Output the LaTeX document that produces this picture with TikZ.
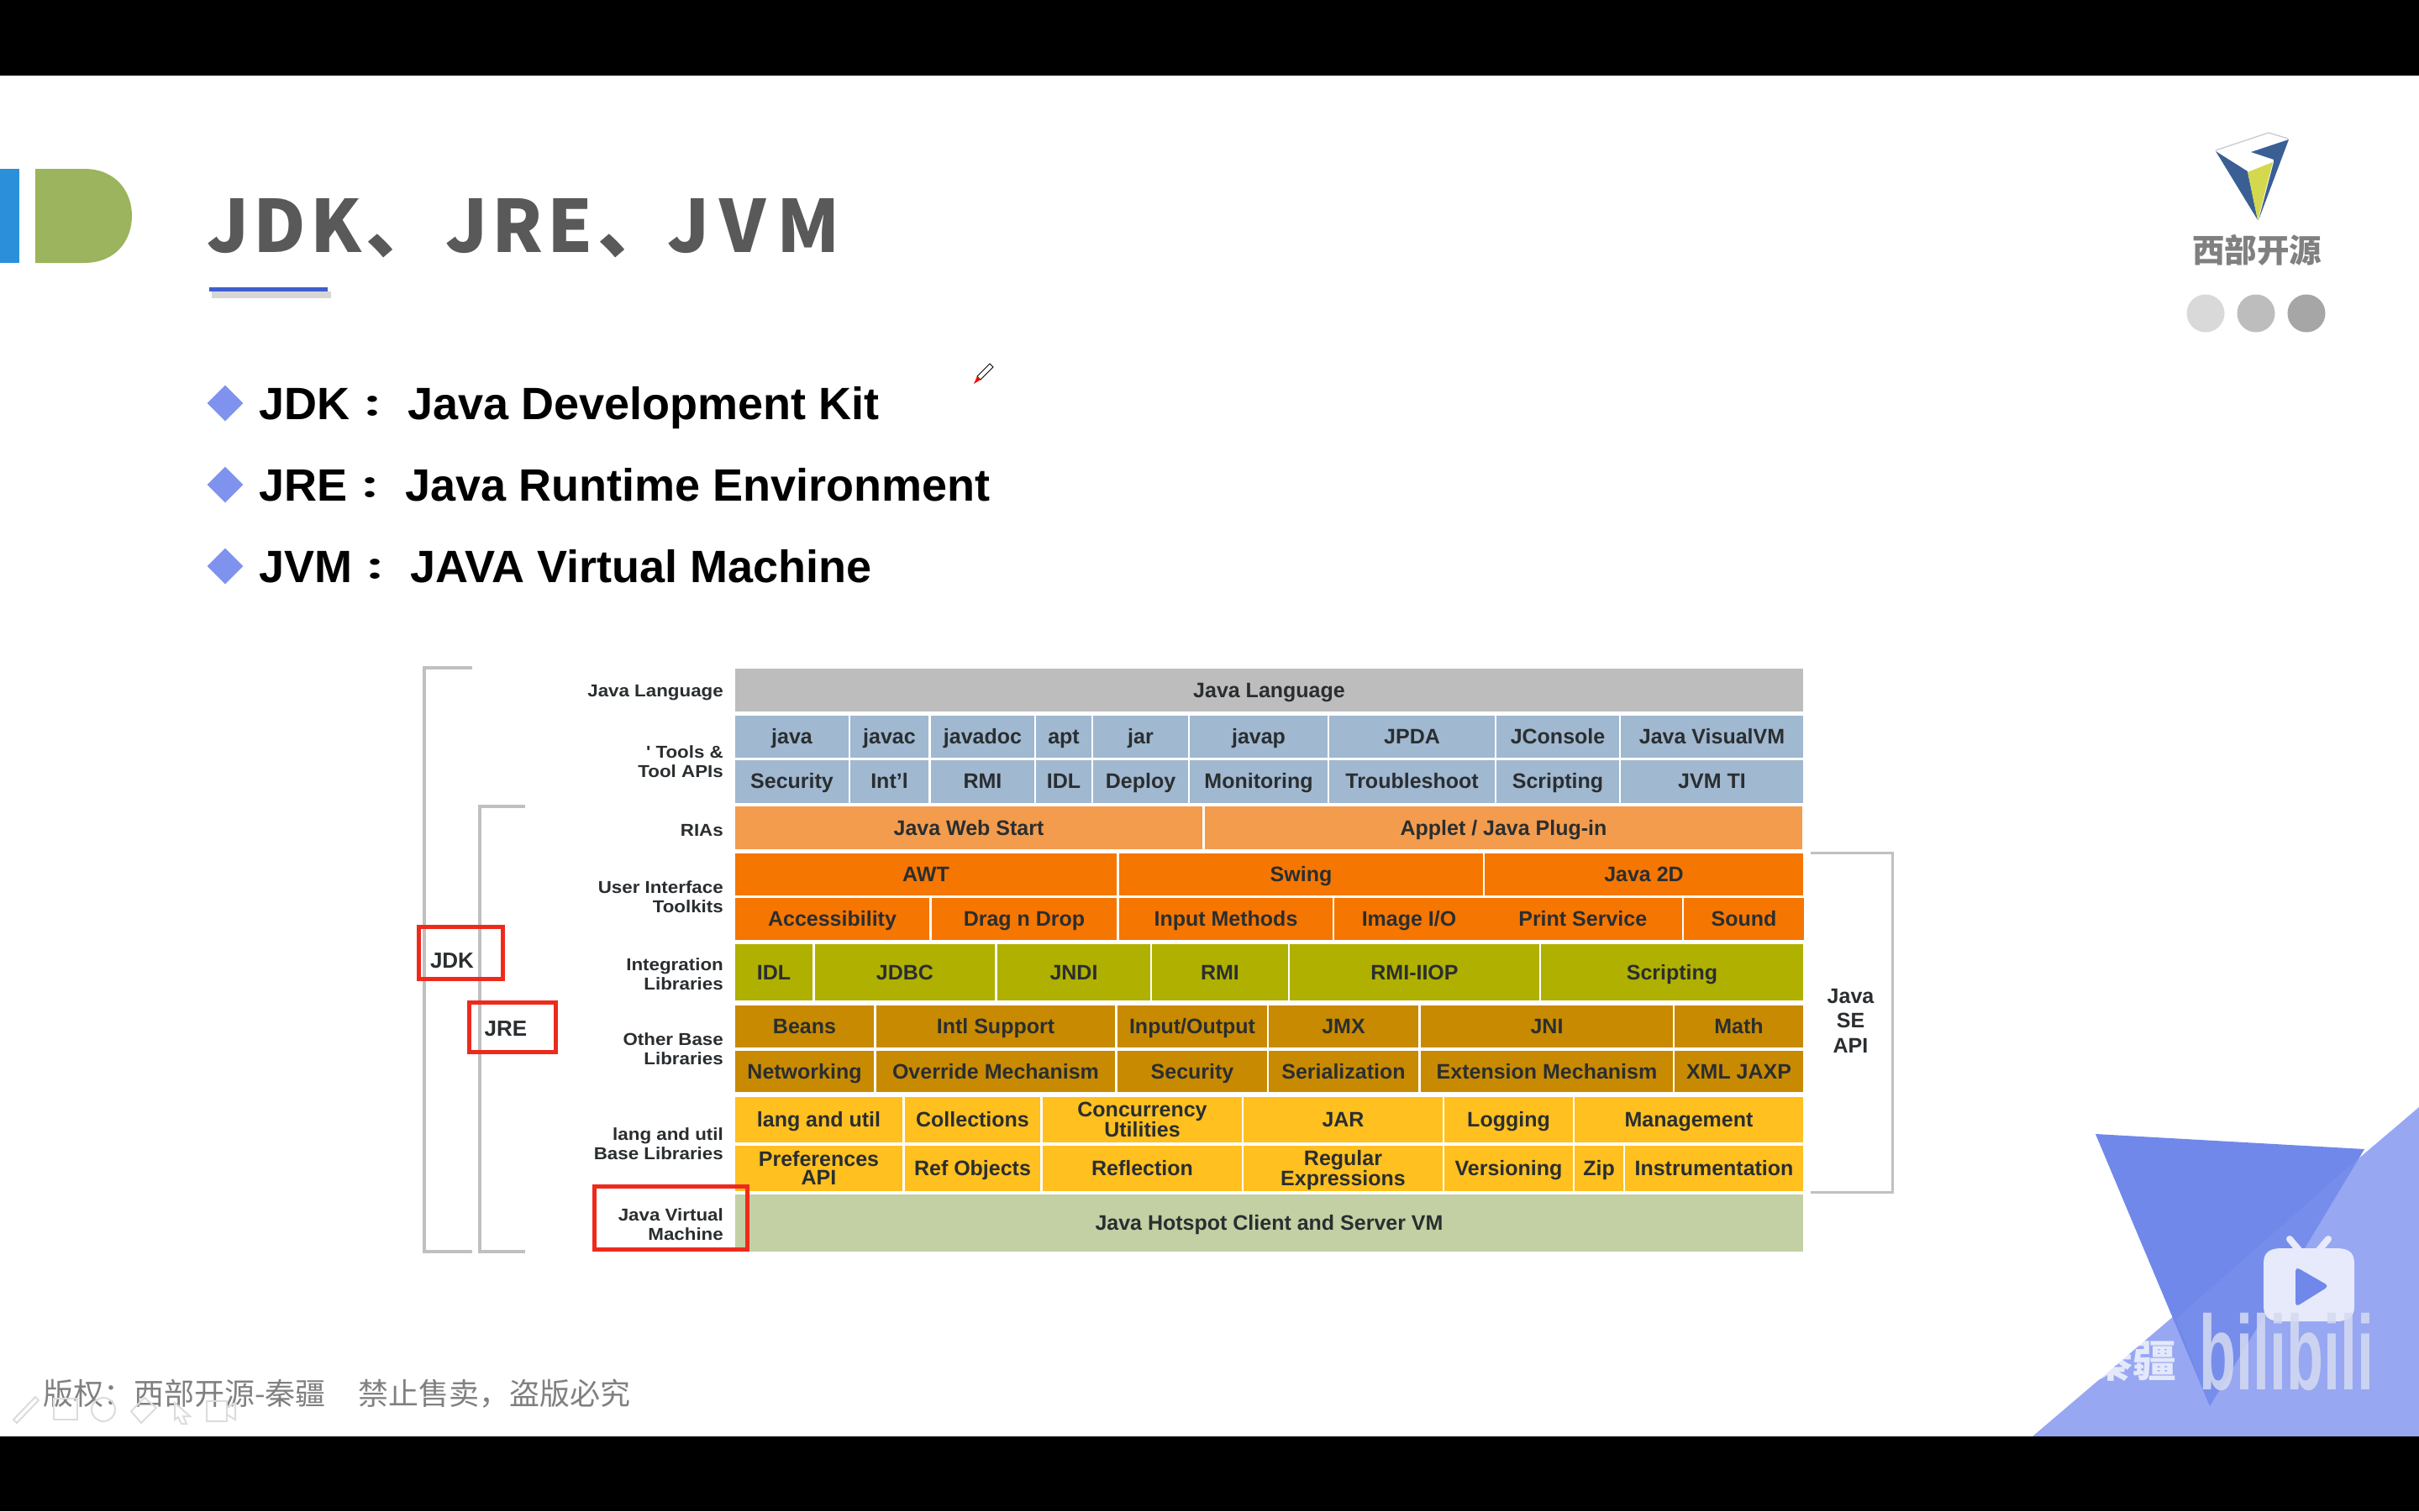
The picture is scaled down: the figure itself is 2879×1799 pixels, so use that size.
\documentclass[tikz,border=0pt]{standalone}
\usepackage{fontspec}
\usetikzlibrary{shapes.geometric}
\setmainfont{Liberation Sans}
\newfontfamily\cjk{Noto Sans CJK SC}
\newfontfamily\cjkc{Noto Sans CJK TC}
\newfontfamily\titlefont[LetterSpace=6]{Noto Sans CJK SC}
\newfontfamily\sidefont[FakeStretch=1.09]{Liberation Sans}
\definecolor{cLang}{HTML}{BDBDBD}
\definecolor{cTool}{HTML}{A0B8D0}
\definecolor{cRia}{HTML}{F39C4E}
\definecolor{cUi}{HTML}{F57600}
\definecolor{cInt}{HTML}{B0B000}
\definecolor{cOther}{HTML}{C88A00}
\definecolor{cBase}{HTML}{FFC020}
\definecolor{cVm}{HTML}{C2D0A4}
\definecolor{cText}{HTML}{2A2E30}
\definecolor{cGrey}{HTML}{C0C0C0}
\definecolor{cRed}{HTML}{EE2A1D}
\definecolor{cDia}{HTML}{7F93EE}
\definecolor{cLogo}{HTML}{3A5F95}
\definecolor{cYel}{HTML}{D3D84E}
\definecolor{cLight}{HTML}{97A7F2}
\definecolor{cDark}{HTML}{7088EA}
\definecolor{cIcon}{HTML}{E6EAFB}
\definecolor{cTool2}{HTML}{DCDCDC}
\definecolor{cBlue}{HTML}{2B90D9}
\definecolor{cGreen}{HTML}{9BB45D}
\definecolor{cTitle}{HTML}{595959}
\definecolor{cShadow}{HTML}{D6D6D6}
\definecolor{cUnder}{HTML}{3F5FD0}
\definecolor{cOutline}{HTML}{C9C4CF}
\definecolor{cBrand}{HTML}{808080}
\definecolor{cDotA}{HTML}{D9D9D9}
\definecolor{cDotB}{HTML}{BDBDBD}
\definecolor{cDotC}{HTML}{A6A6A6}
\definecolor{cBili}{HTML}{D5DBF0}
\tikzset{
  x=1pt,y=-1pt,
  blockcell/.style={rectangle,draw=none,inner sep=0pt,text=cText,align=center,
    font=\fontsize{25}{22.6}\selectfont\bfseries},
  sidelabel/.style={anchor=east,inner sep=0pt,text=cText,align=right,
    font=\fontsize{20.5}{23.2}\selectfont\sidefont\bfseries},
  rail/.style={draw=cGrey,line width=3.6pt},
  thinrail/.style={draw=cGrey,line width=3pt},
  redbox/.style={draw=cRed,line width=5pt,fill=none},
  sdk/.style={inner sep=0pt,text=cText,font=\fontsize{26}{26}\selectfont\bfseries},
  bullet/.style={diamond,fill=cDia,draw=none,inner sep=0pt,minimum width=43pt,minimum height=43pt,aspect=1},
  bullettext/.style={anchor=west,inner sep=0pt,text=black,text height=50pt,text depth=11pt,font=\fontsize{54}{60}\selectfont\bfseries},
  dot/.style={circle,draw=none,inner sep=0pt,minimum size=45pt},
  tooltrace/.style={draw=cTool2,line width=2pt,fill=none},
}
\newcommand\cell[7]{%
  \pgfmathsetmacro\cw{#3-#2}\pgfmathsetmacro\ch{#5-#4}%
  \pgfmathsetmacro\cx{(#2+#3)/2}\pgfmathsetmacro\cy{(#4+#5)/2}%
  \node[blockcell,fill=#6,minimum width=\cw pt,minimum height=\ch pt] (#1) at (\cx,\cy) {\rule{0pt}{23pt}#7\vphantom{Jg}};}
\newcommand\sdtop{\rule{0pt}{21pt}}
\newcommand\sdbot{\vphantom{Jg}}
\newcommand\fwcolon{{\cjkc\raisebox{2.6pt}{\scalebox{1}[.65]{：}}}}
\begin{document}
\begin{tikzpicture}
\useasboundingbox (0,0) rectangle (2879,1799);
\fill[white] (0,0) rectangle (2879,1799);
% corner triangles (under the black bar)
\fill[cLight] (2419,1710) -- (2879,1318) -- (2879,1710) -- cycle;
\fill[cDark] (2494,1350) -- (2814,1368) -- (2630,1674) -- cycle;
\fill[cLight,opacity=.18] (2590,1570) -- (2826,1362) -- (2700,1560) -- (2630,1674) -- cycle;
% bars
\fill[black] (0,0) rectangle (2879,90);
\fill[black] (0,1710) rectangle (2879,1799);
% header marks
\fill[cBlue] (0,201) rectangle (23,313);
\fill[cGreen] (42,201) -- (100,201) .. controls (138,201) and (157,228) .. (157,257) .. controls (157,286) and (138,313) .. (100,313) -- (42,313) -- cycle;
\node[anchor=west,inner sep=0pt,text=cTitle,font=\fontsize{86}{90}\selectfont\titlefont\bfseries] (title) at (246,272) {JDK、\hspace{8.5pt}JRE、\hspace{-3pt}{\addfontfeature{LetterSpace=14.5}JVM}};
\fill[cShadow] (252,347) rectangle (394,355);
\fill[cUnder] (249,342) rectangle (390,347);
% bullets
\node[bullet] (b1) at (268,480) {};
\node[bullet] (b2) at (268,577) {};
\node[bullet] (b3) at (268,674) {};
\node[bullettext] (t1) at (308,480) {JDK\fwcolon{} Java Development Kit};
\node[bullettext] (t2) at (308,577) {JRE\fwcolon{} Java Runtime Environment};
\node[bullettext] (t3) at (308,674) {JVM\fwcolon{} JAVA Virtual Machine};
% pen cursor
\draw[black,line width=1pt,fill=white] (1178,433) -- (1182,437) -- (1167,452) -- (1163,448) -- cycle;
\fill[red] (1163,448) -- (1167,452) -- (1159,457) -- cycle;
% logo
\draw[cOutline,line width=1.2pt] (2637,179) -- (2700,158) -- (2723,165);
\fill[cLogo] (2637,180) -- (2675,204) -- (2687,262) -- cycle;
\fill[cYel] (2675,205) -- (2705,193) -- (2687,262) -- cycle;
\fill[cLogo] (2679,181) -- (2724,166) -- (2688,262) -- (2706,193) -- (2706,190) -- cycle;
\node[inner sep=0pt,text=cBrand,font=\fontsize{38.5}{40}\selectfont\cjk\bfseries] (brand) at (2686,298) {西部开源};
\node[dot,fill=cDotA] (d1) at (2625,373) {};
\node[dot,fill=cDotB] (d2) at (2685,373) {};
\node[dot,fill=cDotC] (d3) at (2745,373) {};
% rails
\draw[rail] (562,795) -- (505,795) -- (505,1490) -- (562,1490);
\draw[rail] (625,960) -- (571,960) -- (571,1490) -- (625,1490);
\draw[thinrail] (2155,1015) -- (2252,1015) -- (2252,1419) -- (2155,1419);
% side labels
\node[sidelabel] (lLang) at (861,821) {\sdtop Java Language\sdbot};
\node[sidelabel] (lTool) at (861,906) {\sdtop ' Tools \&\\Tool APIs\sdbot};
\node[sidelabel] (lRia) at (861,987) {\sdtop RIAs\sdbot};
\node[sidelabel] (lUi) at (861,1067) {\sdtop User Interface\\Toolkits\sdbot};
\node[sidelabel] (lInt) at (861,1158.6) {\sdtop Integration\\Libraries\sdbot};
\node[sidelabel] (lOther) at (861,1248) {\sdtop Other Base\\Libraries\sdbot};
\node[sidelabel] (lBase) at (861,1361) {\sdtop lang and util\\Base Libraries\sdbot};
\node[sidelabel] (lVm) at (861,1456.5) {\sdtop Java Virtual\\Machine\sdbot};
% Language
\cell{jl}{875}{2146}{796}{846.5}{cLang}{Java Language}
% Tools
\cell{a1}{875}{1010}{851.5}{901.5}{cTool}{java}
\cell{a2}{1012}{1105}{851.5}{901.5}{cTool}{javac}
\cell{a3}{1108}{1231}{851.5}{901.5}{cTool}{javadoc}
\cell{a4}{1233}{1299}{851.5}{901.5}{cTool}{apt}
\cell{a5}{1301}{1414}{851.5}{901.5}{cTool}{jar}
\cell{a6}{1416}{1580}{851.5}{901.5}{cTool}{javap}
\cell{a7}{1582}{1779}{851.5}{901.5}{cTool}{JPDA}
\cell{a8}{1781}{1927}{851.5}{901.5}{cTool}{JConsole}
\cell{a9}{1929}{2146}{851.5}{901.5}{cTool}{Java VisualVM}
\cell{b1c}{875}{1010}{904.5}{955.5}{cTool}{Security}
\cell{b2c}{1012}{1105}{904.5}{955.5}{cTool}{Int'l}
\cell{b3c}{1108}{1231}{904.5}{955.5}{cTool}{RMI}
\cell{b4c}{1233}{1299}{904.5}{955.5}{cTool}{IDL}
\cell{b5c}{1301}{1414}{904.5}{955.5}{cTool}{Deploy}
\cell{b6c}{1416}{1580}{904.5}{955.5}{cTool}{Monitoring}
\cell{b7c}{1582}{1779}{904.5}{955.5}{cTool}{Troubleshoot}
\cell{b8c}{1781}{1927}{904.5}{955.5}{cTool}{Scripting}
\cell{b9c}{1929}{2146}{904.5}{955.5}{cTool}{JVM TI}
% RIAs
\cell{r1}{875}{1431}{960}{1010.5}{cRia}{Java Web Start}
\cell{r2}{1434}{2145}{960}{1010.5}{cRia}{Applet / Java Plug-in}
% UI
\cell{u1}{875}{1329}{1015.5}{1066}{cUi}{AWT}
\cell{u2}{1332}{1765}{1015.5}{1066}{cUi}{Swing}
\cell{u3}{1767}{2146}{1015.5}{1066}{cUi}{Java 2D}
\cell{v1}{875}{1106}{1068.5}{1119}{cUi}{Accessibility}
\cell{v2}{1109}{1329}{1068.5}{1119}{cUi}{Drag n Drop}
\cell{v3}{1332}{1586}{1068.5}{1119}{cUi}{Input Methods}
\cell{v4}{1588}{1766}{1068.5}{1119}{cUi}{Image I/O}
\cell{v5}{1765.5}{2002}{1068.5}{1119}{cUi}{Print Service}
\cell{v6}{2004}{2147}{1068.5}{1119}{cUi}{Sound}
% Integration
\cell{i1}{875}{967}{1124}{1191}{cInt}{IDL}
\cell{i2}{970}{1184}{1124}{1191}{cInt}{JDBC}
\cell{i3}{1187}{1369}{1124}{1191}{cInt}{JNDI}
\cell{i4}{1371}{1533}{1124}{1191}{cInt}{RMI}
\cell{i5}{1535}{1832}{1124}{1191}{cInt}{RMI-IIOP}
\cell{i6}{1834}{2146}{1124}{1191}{cInt}{Scripting}
% Other
\cell{o1}{875}{1040}{1197}{1246.5}{cOther}{Beans}
\cell{o2}{1043}{1327}{1197}{1246.5}{cOther}{Intl Support}
\cell{o3}{1330}{1508}{1197}{1246.5}{cOther}{Input/Output}
\cell{o4}{1510}{1688}{1197}{1246.5}{cOther}{JMX}
\cell{o5}{1691}{1991}{1197}{1246.5}{cOther}{JNI}
\cell{o6}{1993}{2146}{1197}{1246.5}{cOther}{Math}
\cell{p1}{875}{1040}{1250.5}{1300}{cOther}{Networking}
\cell{p2}{1043}{1327}{1250.5}{1300}{cOther}{Override Mechanism}
\cell{p3}{1330}{1508}{1250.5}{1300}{cOther}{Security}
\cell{p4}{1510}{1688}{1250.5}{1300}{cOther}{Serialization}
\cell{p5}{1691}{1991}{1250.5}{1300}{cOther}{Extension Mechanism}
\cell{p6}{1993}{2146}{1250.5}{1300}{cOther}{XML JAXP}
% Base
\cell{q1}{875}{1074}{1305.5}{1360}{cBase}{lang and util}
\cell{q2}{1077}{1238}{1305.5}{1360}{cBase}{Collections}
\cell{q3}{1241}{1478}{1305.5}{1360}{cBase}{Concurrency\\Utilities}
\cell{q4}{1480}{1717}{1305.5}{1360}{cBase}{JAR}
\cell{q5}{1719}{1872}{1305.5}{1360}{cBase}{Logging}
\cell{q6}{1874}{2146}{1305.5}{1360}{cBase}{Management}
\cell{s1}{875}{1074}{1363.5}{1417.5}{cBase}{Preferences\\API}
\cell{s2}{1077}{1238}{1363.5}{1417.5}{cBase}{Ref Objects}
\cell{s3}{1241}{1478}{1363.5}{1417.5}{cBase}{Reflection}
\cell{s4}{1480}{1717}{1363.5}{1417.5}{cBase}{Regular\\Expressions}
\cell{s5}{1719}{1872}{1363.5}{1417.5}{cBase}{Versioning}
\cell{s6}{1874}{1932}{1363.5}{1417.5}{cBase}{Zip}
\cell{s7}{1934}{2146}{1363.5}{1417.5}{cBase}{Instrumentation}
% VM
\cell{vm}{875}{2146}{1422}{1490}{cVm}{Java Hotspot Client and Server VM}
% red boxes and their labels
\node[sdk] (jdk) at (538,1144) {JDK};
\node[sdk] (jre) at (602,1225) {JRE};
\draw[redbox] (498,1103) rectangle (598,1165);
\draw[redbox] (558,1193) rectangle (661,1252);
\draw[redbox] (707,1412) rectangle (889,1487);
\node[inner sep=0pt,text=cText,align=center,font=\fontsize{25}{29.5}\selectfont\bfseries] (jse) at (2202.5,1218) {\vphantom{Jg}Java\\SE\\API\vphantom{Jg}};
% bottom left
\node[anchor=west,inner sep=0pt,text=cBrand,font=\fontsize{36}{38}\selectfont\cjk] (copy) at (51,1659) {版权：西部开源-秦疆\hspace{39pt}禁止售卖，盗版必究};
% faint toolbar
\draw[tooltrace] (16,1690) -- (42,1663) -- (46,1667) -- (20,1694) -- cycle;
\draw[tooltrace] (64,1665) rectangle (92,1690);
\draw[tooltrace] (123,1678) circle (14pt);
\draw[tooltrace] (156,1680) -- (172,1664) -- (186,1676) -- (168,1694) -- cycle;
\draw[tooltrace] (208,1670) -- (226,1686) -- (218,1686) -- (222,1695) -- (216,1695) -- (212,1687) -- (208,1690) -- cycle;
\draw[tooltrace] (246,1668) rectangle (270,1692);
\draw[tooltrace] (270,1676) -- (280,1670) -- (280,1690) -- (270,1684);
% watermark
\node[anchor=west,inner sep=0pt,text=white,opacity=.75,font=\fontsize{52}{54}\selectfont\cjk\bfseries] (wm) at (2258,1620) {西部开源-秦疆};
\fill[cIcon] (2694,1504) .. controls (2694,1490) and (2702,1486) .. (2716,1486) -- (2780,1486) .. controls (2794,1486) and (2802,1490) .. (2802,1504) -- (2802,1555) .. controls (2802,1569) and (2794,1573) .. (2780,1573) -- (2716,1573) .. controls (2702,1573) and (2694,1569) .. (2694,1555) -- cycle;
\draw[cIcon,line width=8pt,line cap=round] (2725,1475) -- (2736,1488);
\draw[cIcon,line width=8pt,line cap=round] (2771,1475) -- (2760,1488);
\fill[cDark,rounded corners=5pt] (2732,1508) -- (2772,1531) -- (2732,1556) -- cycle;
\node[inner sep=0pt,text=cBili,opacity=.85,font=\fontsize{72}{72}\selectfont\bfseries] (bl) at (2721,1609) {\scalebox{1}[1.75]{bilibili}};
\end{tikzpicture}
\end{document}
